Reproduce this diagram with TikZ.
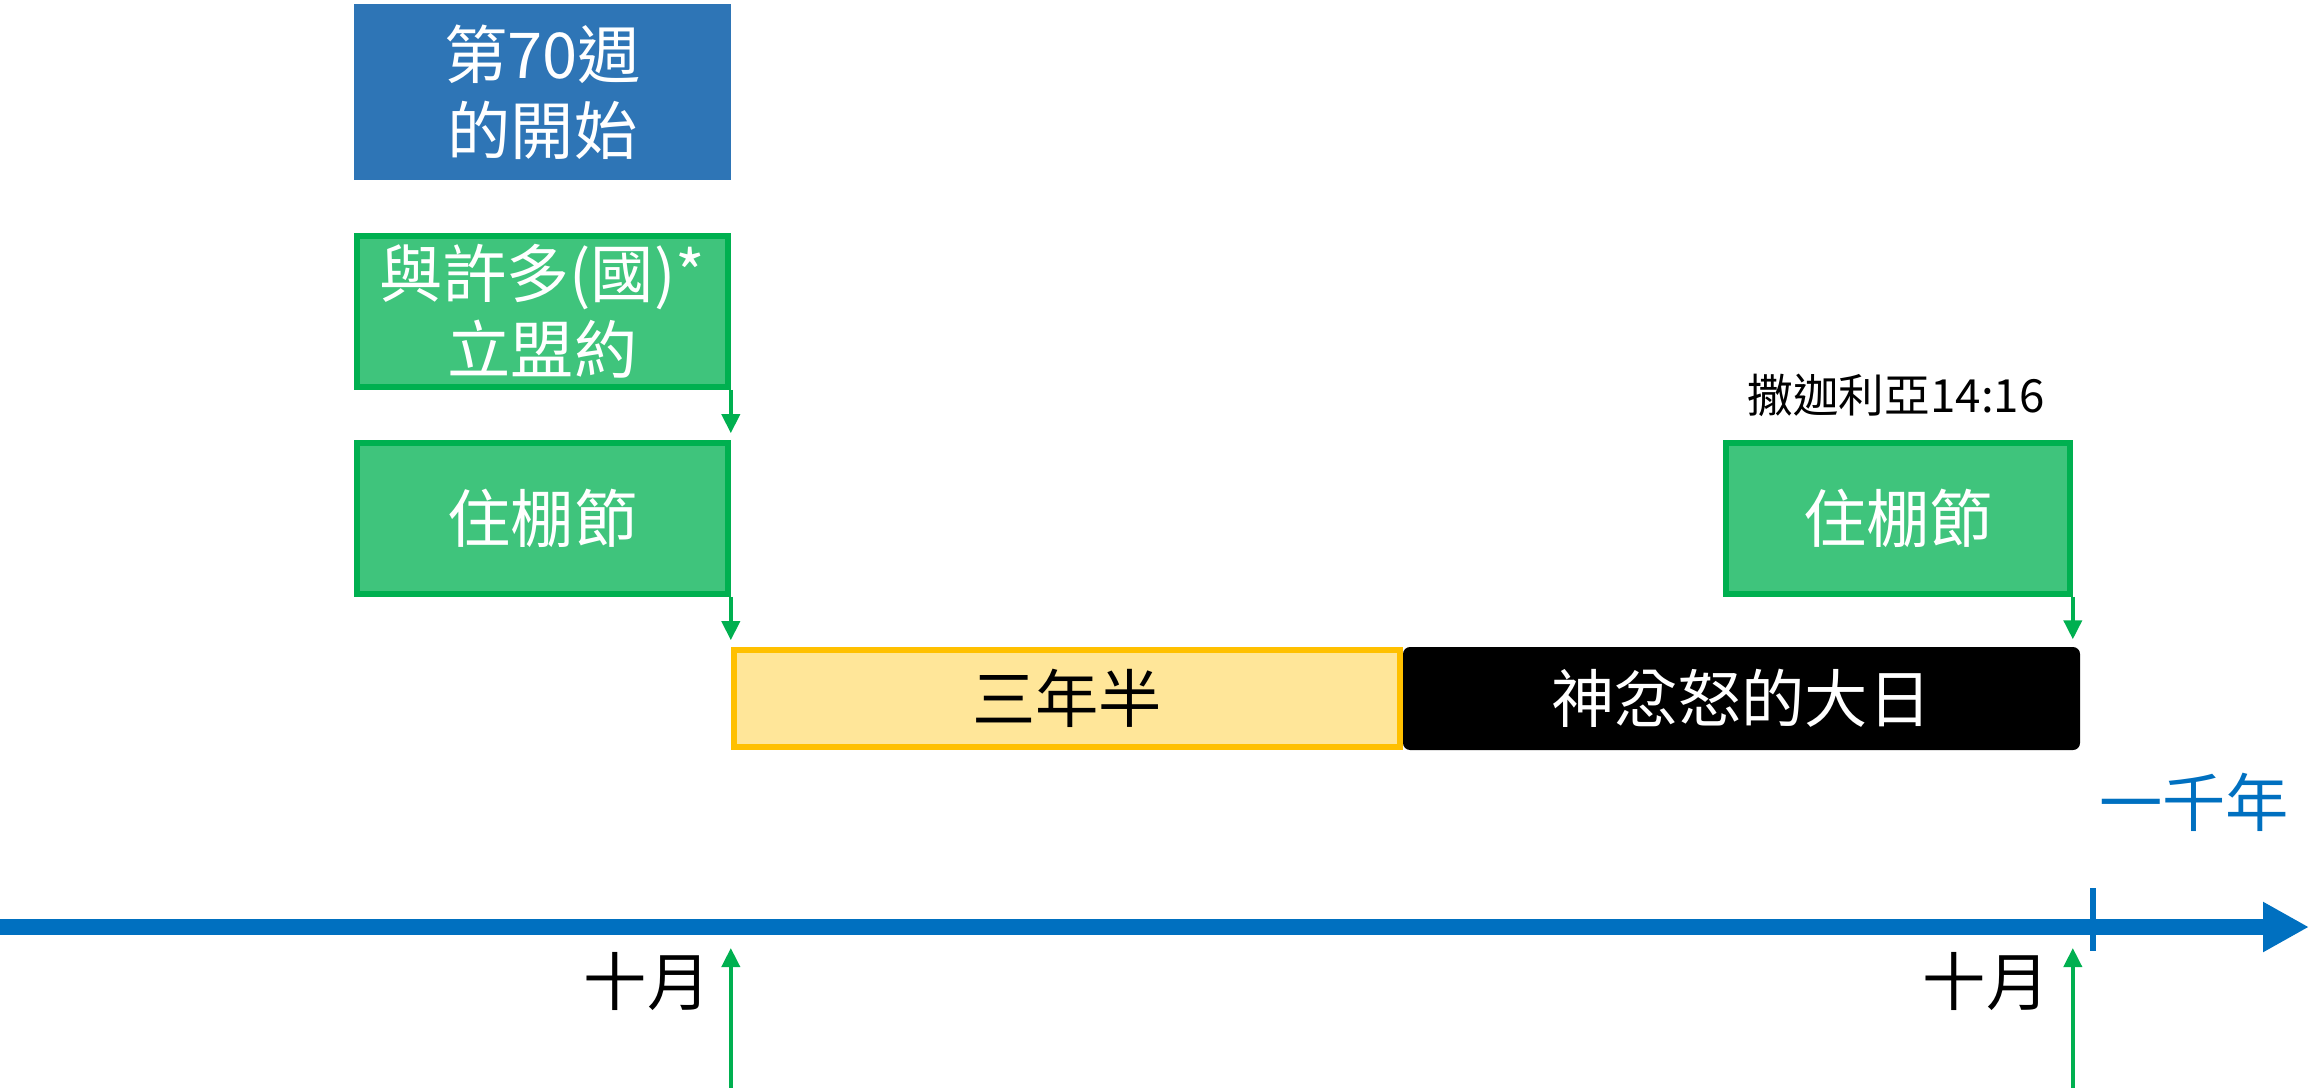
\documentclass[tikz,border=0pt]{standalone}
\usepackage{fontspec}
\setmainfont{Noto Sans CJK TC}
\usetikzlibrary{arrows.meta}
\usetikzlibrary{calc}
\definecolor{weekblue}{HTML}{2E75B6}
\definecolor{feastfill}{HTML}{3FC47C}
\definecolor{feastline}{HTML}{00B050}
\definecolor{halffill}{HTML}{FFE699}
\definecolor{halfline}{HTML}{FFC000}
\definecolor{axisblue}{HTML}{0070C0}
\tikzset{axis/.style={axisblue, line width=4.4pt, -{Triangle[length=0.46cm,width=0.47cm]}}}
\tikzset{big/.style={font=\fontsize{18}{21.6}\selectfont, align=center, inner sep=0pt}}
\tikzset{feast/.style={big, fill=feastfill, draw=feastline, line width=1.6pt, text=white, minimum height=1.51cm}}
\tikzset{flow/.style={feastline, line width=1.1pt, shorten >=0.07cm, -{Triangle[length=0.19cm,width=0.18cm]}}}

\begin{document}
\begin{tikzpicture}
    \useasboundingbox (0,0) rectangle (23.11,-10.88);
    %Boxes
    \node[big, fill=weekblue, text=white, minimum width=3.77cm, minimum height=1.76cm] (week) at (5.425,-0.92) {第70週\\的開始};
    \node[feast, minimum width=3.71cm] (covenant) at (5.425,-3.115) {與許多(國)*\\立盟約};
    \node[feast, minimum width=3.71cm] (booths) at (5.425,-5.185) {住棚節};
    \node[feast, minimum width=3.44cm] (boothsend) at (18.98,-5.185) {住棚節};
    \node[font=\fontsize{13}{15}\selectfont, inner sep=0pt] (zech) at (18.96,-3.95) {撒迦利亞14:16};
    \node[big, fill=halffill, draw=halfline, line width=1.6pt, minimum width=6.66cm, minimum height=0.97cm] (half) at (10.67,-6.985) {三年半};
    \node[big, fill=black, text=white, rounded corners=2pt, minimum width=6.77cm, minimum height=1.03cm] (wrath) at (17.415,-6.985) {神忿怒的大日};
    \draw[flow] (covenant.south east) -- (covenant.south east |- booths.north);
    \draw[flow] (booths.south east) -- (booths.south east |- half.north);
    \draw[flow] (boothsend.south east) -- (boothsend.south east |- wrath.north);
    %Axis
    \coordinate (start) at (0,-9.27);
    \coordinate (end) at (23.09,-9.27);
    \draw[axis] (start) -- (end);
    \draw[axisblue, line width=1.7pt] (20.93,-8.88) -- (20.93,-9.51);
    \node[big, text=axisblue] (millennium) at (21.94,-8.02) {一千年};
    %Months
    \coordinate (oct1) at (booths.south east |- 0,-10.88);
    \coordinate (oct2) at (boothsend.south east |- 0,-10.88);
    \draw[flow, shorten >=0.21cm] (oct1) -- (oct1 |- start);
    \draw[flow, shorten >=0.21cm] (oct2) -- (oct2 |- start);
    \node[big] (oct1lbl) at (6.47,-9.82) {十月};
    \node[big] (oct2lbl) at (19.86,-9.82) {十月};
\end{tikzpicture}
\end{document}
